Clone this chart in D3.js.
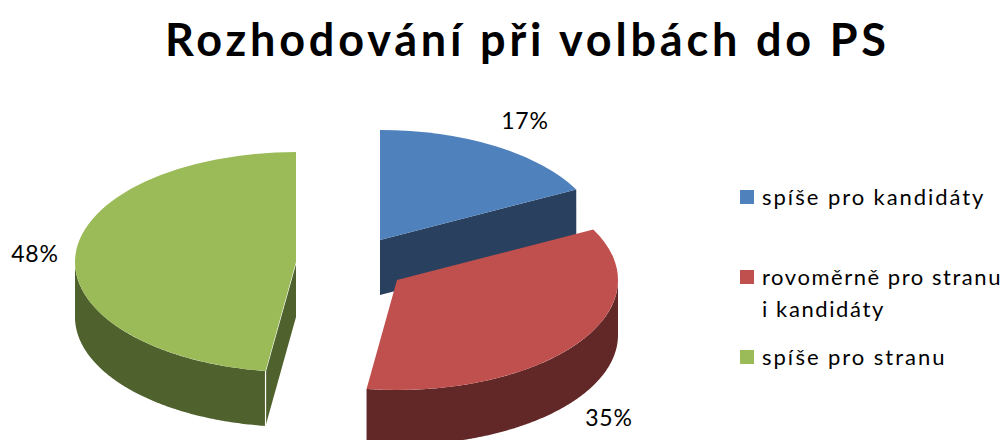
<!DOCTYPE html>
<html><head><meta charset="utf-8">
<script src="https://cdn.jsdelivr.net/npm/d3@7"></script>
<style>html,body{margin:0;padding:0;background:#fff}svg{display:block}text{font-family:Lato,"Open Sans",sans-serif;fill:#000}</style>
</head><body><svg id="c" width="1005" height="440"></svg>
<script>
const categories = ["spíše pro kandidáty", "rovoměrně pro stranu", "spíše pro stranu"];
const shares = [17.4, 34.8, 47.8];
const legendLines = [["spíše pro kandidáty"], ["rovoměrně pro stranu", "i kandidáty"], ["spíše pro stranu"]];
const legendWidths = [[223], [240], [184]];
const topColors = ["#4F81BD", "#C0504D", "#9BBB59"];
const wallColors = ["#29415F", "#622727", "#4F612C"];
const apexes = [[380, 240], [397, 280], [296, 262]];
const labelPos = [[525, 129], [609, 426], [35, 262]];
const legendY = [197, 277, 357];
const rx = 221, ry = 110, depth = 55;

const svg = d3.select("#c");
svg.append("text").attr("x", 165).attr("y", 56)
  .attr("font-size", 45).attr("font-weight", 700)
  .attr("textLength", 721).attr("lengthAdjust", "spacing")
  .text("Rozhodování při volbách do PS");

const slices = d3.pie().sort(null).value(d => d)(shares);
const arc = d3.arc().innerRadius(0).outerRadius(rx);
const px = a => rx * Math.sin(a), py = a => -ry * Math.cos(a);
const fmt = d3.format(".0f");

slices.forEach((s, i) => {
  const [cx, cy] = apexes[i];
  const g = svg.append("g").attr("transform", `translate(${cx},${cy})`);
  const edge = i === 0 ? s.endAngle : i === 2 ? s.startAngle : null;
  if (edge !== null) {
    g.append("path").attr("fill", wallColors[i]).attr("d", d3.line()([
      [0, 0], [px(edge), py(edge)], [px(edge), py(edge) + depth], [0, depth]
    ]));
  }
  const a0 = Math.max(s.startAngle, Math.PI / 2), a1 = Math.min(s.endAngle, Math.PI * 1.5);
  if (a1 > a0) {
    g.append("path").attr("fill", wallColors[i]).attr("d",
      d3.area().x(px).y0(py).y1(a => py(a) + depth)(d3.range(a0, a1, 0.01).concat([a1])));
  }
  if (i === 2) {
    g.append("path").attr("fill", "none").attr("stroke", "#fff").attr("stroke-width", 1.2)
      .attr("d", d3.line()([[0, 0], [px(edge), py(edge)], [px(edge), py(edge) + depth]]));
  }
  g.append("path").attr("fill", topColors[i]).attr("transform", `scale(1,${ry / rx})`).attr("d", arc(s));
  svg.append("text").attr("x", labelPos[i][0]).attr("y", labelPos[i][1]).attr("text-anchor", "middle")
    .attr("font-size", 23).attr("letter-spacing", 0.8).text(fmt(s.data) + "%");
});

categories.forEach((c, i) => {
  svg.append("rect").attr("x", 740).attr("y", legendY[i] - 7).attr("width", 14).attr("height", 14).attr("fill", topColors[i]);
  legendLines[i].forEach((t, j) => {
    const w = legendWidths[i][j];
    const el = svg.append("text").attr("x", 762).attr("y", legendY[i] + 8 + j * 32)
      .attr("font-size", 22).attr("letter-spacing", 1.6).text(t);
    if (w) el.attr("textLength", w).attr("lengthAdjust", "spacing");
  });
});
</script></body></html>
